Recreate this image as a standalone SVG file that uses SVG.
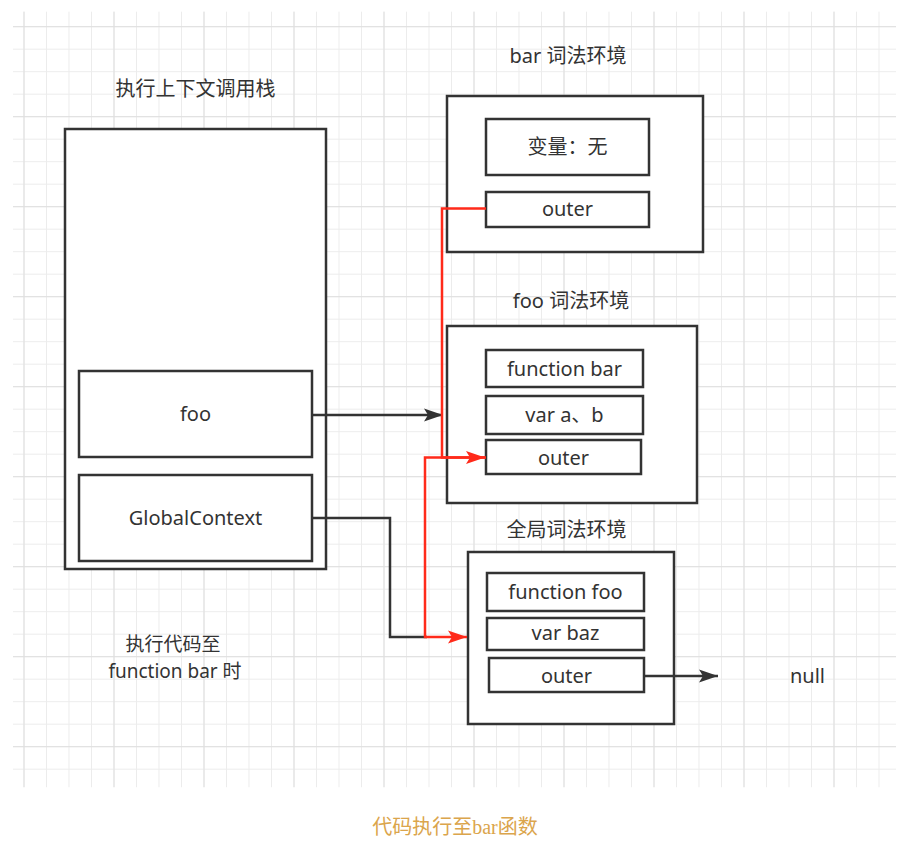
<svg xmlns="http://www.w3.org/2000/svg" width="908" height="844" viewBox="0 0 908 844">
<style>
.box{fill:#fff;stroke:#333;stroke-width:2.5}
.t{font-family:"Noto Sans","Noto Sans CJK SC",sans-serif;font-size:20px;fill:#333;text-anchor:middle}
.blk{fill:none;stroke:#333;stroke-width:2.5}
.red{fill:none;stroke:#ff2a1a;stroke-width:2.5}
.cap{font-family:"Liberation Serif","Noto Sans CJK SC",serif;font-size:20px;fill:#dba54c;text-anchor:middle}
</style>
<defs>
<pattern id="gMinor" patternUnits="userSpaceOnUse" x="1" y="3.7" width="22.5" height="22.5">
<path d="M0.5,0 V22.5 M0,0.5 H22.5" fill="none" stroke="#ececec" stroke-width="1"/>
</pattern>
<pattern id="gMajor" patternUnits="userSpaceOnUse" x="23.5" y="26.2" width="90" height="90">
<path d="M0.5,0 V90 M0,0.5 H90" fill="none" stroke="#dedede" stroke-width="1"/>
</pattern>
<marker id="ahB" markerUnits="userSpaceOnUse" markerWidth="20" markerHeight="14" refX="19" refY="7" orient="auto">
<path d="M0,0.5 L19,7 L0,13.5 L4,7 z" fill="#333"/>
</marker>
<marker id="ahR" markerUnits="userSpaceOnUse" markerWidth="20" markerHeight="14" refX="19" refY="7" orient="auto">
<path d="M0,0.5 L19,7 L0,13.5 L4,7 z" fill="#ff2a1a"/>
</marker>
</defs>
<rect width="908" height="844" fill="#fff"/>
<g id="grid">
<rect x="13" y="11.7" width="883" height="775.5" fill="url(#gMinor)"/>
<rect x="13" y="11.7" width="883" height="775.5" fill="url(#gMajor)"/>
</g>

<g id="call-stack">
<text class="t" x="195.5" y="96">执行上下文调用栈</text>
<rect class="box" x="65" y="129" width="261" height="440"/>
</g>
<g id="foo-context">
<rect class="box" x="79" y="371" width="233" height="86"/>
<text class="t" x="195.5" y="421">foo</text>
</g>
<g id="global-context">
<rect class="box" x="79" y="475" width="233" height="86"/>
<text class="t" x="195.5" y="525">GlobalContext</text>
</g>
<g id="stack-note">
<text class="t" style="font-size:19px"><tspan x="173" y="651">执行代码至</tspan><tspan x="175" y="678">function bar 时</tspan></text>
</g>

<g id="bar-env">
<text class="t" x="568" y="63">bar 词法环境</text>
<rect class="box" x="447" y="96" width="256" height="156"/>
<rect class="box" x="486" y="119" width="163" height="56"/>
<text class="t" x="567.5" y="154">变量：无</text>
</g>
<g id="bar-outer">
<rect class="box" x="486" y="192" width="163" height="35"/>
<text class="t" x="567.5" y="216">outer</text>
</g>

<g id="foo-env">
<text class="t" x="571" y="308">foo 词法环境</text>
<rect class="box" x="447" y="326" width="250" height="177"/>
<rect class="box" x="486" y="350" width="157" height="37"/>
<text class="t" x="564.5" y="376">function bar</text>
<rect class="box" x="486" y="396" width="157" height="38"/>
<text class="t" x="564.5" y="421.5">var a、b</text>
</g>
<g id="foo-outer">
<rect class="box" x="486" y="440" width="155" height="34"/>
<text class="t" x="563.5" y="465">outer</text>
</g>

<g id="global-env">
<text class="t" x="566.5" y="537">全局词法环境</text>
<rect class="box" x="468" y="552" width="206" height="172"/>
<rect class="box" x="487" y="573" width="157" height="38"/>
<text class="t" x="565.5" y="599">function foo</text>
<rect class="box" x="487" y="618" width="157" height="32"/>
<text class="t" x="565.5" y="640">var baz</text>
</g>
<g id="global-outer">
<rect class="box" x="489" y="658" width="155" height="34"/>
<text class="t" x="566.5" y="682.5">outer</text>
</g>

<g id="null">
<text class="t" x="807.5" y="682.5">null</text>
</g>

<g id="connectors">
<path class="blk" d="M312,415 H443" marker-end="url(#ahB)"/>
<path class="blk" d="M312,518 H390 V637 H427"/>
<path class="blk" d="M644,676 H718" marker-end="url(#ahB)"/>
<path class="red" d="M486,208.5 H442 V457.5 H485" marker-end="url(#ahR)"/>
<path class="red" d="M486,457.5 H425 V637 H467" marker-end="url(#ahR)"/>
</g>

<text class="cap" x="455" y="834">代码执行至bar函数</text>
</svg>
